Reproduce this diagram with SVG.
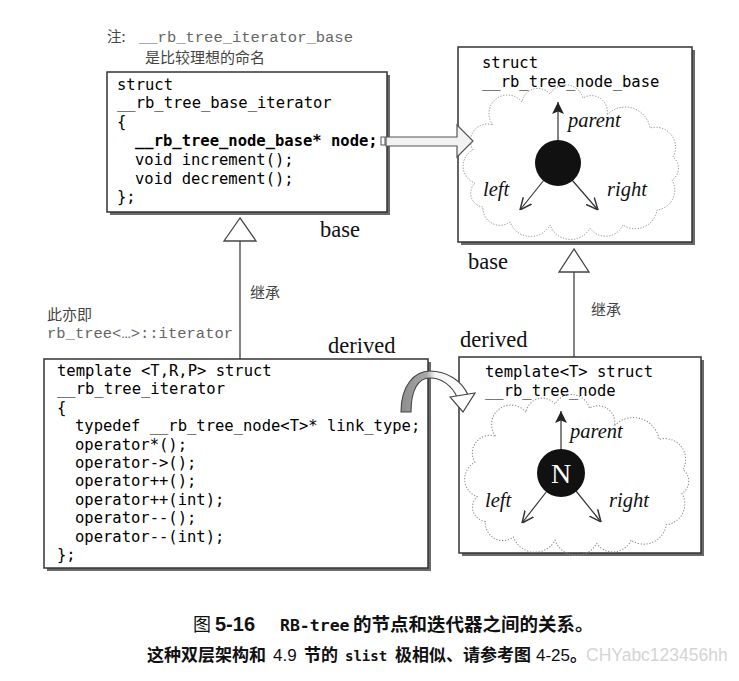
<svg xmlns="http://www.w3.org/2000/svg" width="739" height="681" viewBox="0 0 739 681">
<style>
.box{fill:#fff;stroke:#333;stroke-width:1.5}
.shadow{fill:#6a6a6a}
.code{font-family:"DejaVu Sans Mono","Liberation Mono",monospace;font-size:15.5px;fill:#000}
.bold{font-weight:bold}
.note{font-family:"Liberation Mono",monospace;font-size:15.5px;fill:#666}
.cjk{font-family:"Noto Sans CJK SC",sans-serif;fill:#444}
.lbl{font-family:"Liberation Serif",serif;font-size:22.5px;fill:#111}
.it{font-family:"Liberation Serif",serif;font-style:italic;font-size:20.5px;fill:#111}
.cloud{fill:none;stroke:#8a8a8a;stroke-width:1;stroke-dasharray:1.2 1.6}
.ln{stroke:#333;stroke-width:1.2;fill:none}
.tri{fill:#fff;stroke:#444;stroke-width:1.3}
.cap{font-family:"Noto Sans CJK SC",sans-serif;fill:#111}
</style>
<defs>
<path id="cloud" d="M0,57 A17,17 0 0 1 20,32 A18,18 0 0 1 49,9 A16,16 0 0 1 77,1 A18,18 0 0 1 110,5 A16,16 0 0 1 134,22 A25,25 0 0 1 177,35 A20,20 0 0 1 200,64 A14,14 0 0 1 199,87 A20,20 0 0 1 184,117 A22,22 0 0 1 150,132 A19,19 0 0 1 117,135 A22,22 0 0 1 77,132 A22,22 0 0 1 37,129 A17,17 0 0 1 10,114 A14,14 0 0 1 2,90 A18,18 0 0 1 0,57 Z"/>
<marker id="fillhead" markerUnits="userSpaceOnUse" markerWidth="12" markerHeight="12" refX="10" refY="5" viewBox="0 0 10 10" orient="auto">
<path d="M0,0 L10,5 L0,10 L2,5 z" fill="#222"/>
</marker>
<marker id="openhead" markerUnits="userSpaceOnUse" markerWidth="12" markerHeight="12" refX="10" refY="5" viewBox="0 0 10 10" orient="auto">
<path d="M0,0.5 L10,5 L0,9.5" fill="none" stroke="#333" stroke-width="1.2"/>
</marker>
<linearGradient id="band" gradientUnits="userSpaceOnUse" x1="400" y1="0" x2="470" y2="0">
<stop offset="0" stop-color="#8c8c8c"/>
<stop offset="0.38" stop-color="#a8a8a8"/>
<stop offset="0.5" stop-color="#f4f4f4"/>
<stop offset="1" stop-color="#fff"/>
</linearGradient>
</defs>

<g id="note-top">
<text x="107" y="42" class="cjk" font-size="14.5">注:</text>
<text x="139" y="42" class="note">__rb_tree_iterator_base</text>
<text x="145" y="63" class="cjk" font-size="15">是比较理想的命名</text>
</g>

<g id="node-base-iterator">
<rect x="110" y="75" width="280" height="140" class="shadow"/>
<rect x="107" y="72" width="280" height="140" class="box"/>
<text class="code" x="117" y="90">struct</text>
<text class="code" x="117" y="108">__rb_tree_base_iterator</text>
<text class="code" x="117" y="127">{</text>
<text class="code bold" x="135" y="146">__rb_tree_node_base* node;</text>
<text class="code" x="135" y="165">void increment();</text>
<text class="code" x="135" y="184">void decrement();</text>
<text class="code" x="117" y="202">};</text>
</g>

<g id="node-base">
<rect x="461" y="50" width="234" height="195" class="shadow"/>
<rect x="458" y="47" width="234" height="195" class="box"/>
<text class="code" x="482" y="68">struct</text>
<text class="code" x="482" y="87">__rb_tree_node_base</text>
<use href="#cloud" class="cloud" transform="translate(473,93)"/>
<line x1="558" y1="141" x2="558" y2="102" class="ln" marker-end="url(#fillhead)"/>
<line x1="544" y1="180" x2="520" y2="210" class="ln" marker-end="url(#openhead)"/>
<line x1="572" y1="180" x2="598" y2="210" class="ln" marker-end="url(#openhead)"/>
<circle cx="558" cy="163" r="23" fill="#111"/>
<text class="it" x="568" y="127">parent</text>
<text class="it" x="483" y="196">left</text>
<text class="it" x="607" y="196">right</text>
</g>

<g id="node-iterator">
<rect x="47" y="362" width="384" height="209" class="shadow"/>
<rect x="44" y="359" width="384" height="209" class="box"/>
<text class="code" x="57" y="376">template &lt;T,R,P&gt; struct</text>
<text class="code" x="57" y="394">__rb_tree_iterator</text>
<text class="code" x="57" y="413">{</text>
<text class="code" x="75" y="431">typedef __rb_tree_node&lt;T&gt;* link_type;</text>
<text class="code" x="75" y="450">operator*();</text>
<text class="code" x="75" y="468">operator-&gt;();</text>
<text class="code" x="75" y="486">operator++();</text>
<text class="code" x="75" y="505">operator++(int);</text>
<text class="code" x="75" y="523">operator--();</text>
<text class="code" x="75" y="542">operator--(int);</text>
<text class="code" x="57" y="560">};</text>
</g>

<g id="node-tree-node">
<rect x="462" y="360" width="242" height="196" class="shadow"/>
<rect x="459" y="357" width="242" height="196" class="box"/>
<text class="code" x="485" y="377">template&lt;T&gt; struct</text>
<text class="code" x="485" y="396">__rb_tree_node</text>
<use href="#cloud" class="cloud" transform="translate(475,403) scale(1.04,1.04)"/>
<line x1="561" y1="450" x2="561" y2="411" class="ln" marker-end="url(#fillhead)"/>
<line x1="547" y1="491" x2="522" y2="523" class="ln" marker-end="url(#openhead)"/>
<line x1="576" y1="491" x2="601" y2="522" class="ln" marker-end="url(#openhead)"/>
<circle cx="561" cy="473" r="24" fill="#111"/>
<text x="561" y="483" text-anchor="middle" font-family="Liberation Serif, serif" font-size="28" fill="#fff">N</text>
<text class="it" x="570" y="438">parent</text>
<text class="it" x="485" y="507">left</text>
<text class="it" x="609" y="507">right</text>
</g>

<g id="note-left">
<text x="47" y="320" class="cjk" font-size="15">此亦即</text>
<text x="47" y="338" class="note">rb_tree&lt;…&gt;::iterator</text>
</g>

<g id="connectors">
<line x1="240" y1="241" x2="240" y2="359" class="ln"/>
<polygon points="240,218 224,241 256,241" class="tri"/>
<line x1="574" y1="272" x2="574" y2="357" class="ln"/>
<polygon points="574,249 559,272 589,272" class="tri"/>
<rect x="381" y="137" width="4" height="8" fill="#fff" stroke="#555" stroke-width="1"/>
<path d="M386,137 L457,137 L457,125 L473,141 L457,157 L457,146 L386,146 Z" fill="#f2f2f2" stroke="#555" stroke-width="1.2"/>
<path d="M401,412 C401,386 414,371 430,371 C447,371 462,381 468,395 L457,397 C452,386 442,378 430,378 C418,378 411,390 411,412 Z" fill="url(#band)" stroke="#444" stroke-width="1.1"/>
<polygon points="450,397 475,393 463,412" fill="#fff" stroke="#444" stroke-width="1.2"/>
</g>

<g id="labels">
<text class="lbl" x="320" y="237">base</text>
<text class="lbl" x="468" y="269">base</text>
<text class="lbl" x="328" y="353">derived</text>
<text class="lbl" x="460" y="347">derived</text>
<text class="cjk" x="250" y="298" font-size="15">继承</text>
<text class="cjk" x="591" y="315" font-size="15">继承</text>
</g>

<g id="caption">
<text x="586" y="661" font-family="Liberation Sans, sans-serif" font-size="17.5" fill="#d4d4d4">CHYabc123456hh</text>
<text y="631" class="cap"><tspan x="193" font-size="18">图</tspan><tspan x="215" font-family="Liberation Sans, sans-serif" font-weight="bold" font-size="20">5-16</tspan><tspan x="280" font-family="DejaVu Sans Mono, monospace" font-size="16.5" font-weight="bold">RB-tree</tspan><tspan x="353" font-size="18.5" font-weight="bold">的节点和迭代器之间的关系。</tspan></text>
<text y="661" class="cap" font-weight="bold"><tspan x="147" font-size="17">这种双层架构和</tspan><tspan x="273" font-family="Liberation Sans, sans-serif" font-size="17" font-weight="normal">4.9</tspan><tspan x="304" font-size="17">节的</tspan><tspan x="345" font-family="DejaVu Sans Mono, monospace" font-size="14">slist</tspan><tspan x="395" font-size="17">极相似、请参考图</tspan><tspan x="536" font-family="Liberation Sans, sans-serif" font-size="17" font-weight="normal">4-25</tspan><tspan font-size="17">。</tspan></text>
</g>
</svg>
